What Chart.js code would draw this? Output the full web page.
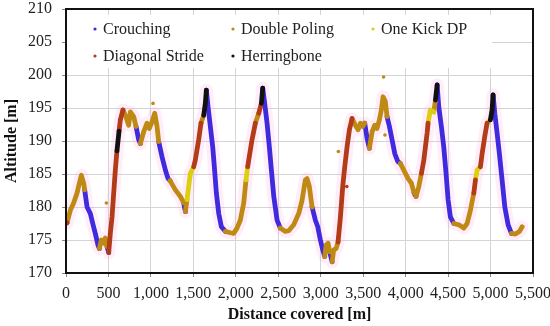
<!DOCTYPE html>
<html>
<head>
<meta charset="utf-8">
<script src="https://cdn.jsdelivr.net/npm/chart.js@4.4.1/dist/chart.umd.min.js"></script>
<style>
html,body{margin:0;padding:0;background:#fff;}
#wrap{width:550px;height:326px;position:relative;}
</style>
</head>
<body>
<div id="wrap"><canvas id="c" width="550" height="326"></canvas></div>
<script>
// ---- DATA ----
const techNames = ['Crouching', 'Double Poling', 'One Kick DP', 'Diagonal Stride', 'Herringbone'];
const techCodes = ['C', 'DP', 'K', 'DS', 'H'];

// track: distance [m], altitude [m], technique of segment starting at this point
const distance = [0,12,51,90,130,157,181,208,220,248,287,315,345,377,393,416,444,463,483,503,522,542,581,600,625,640,671,699,738,758,797,825,856,876,915,954,982,1013,1045,1072,1092,1131,1170,1202,1225,1288,1347,1386,1406,1425,1465,1504,1523,1563,1590,1622,1641,1653,1673,1700,1728,1747,1771,1799,1830,1877,1936,1975,2014,2053,2093,2120,2140,2152,2191,2230,2270,2301,2317,2340,2368,2395,2419,2447,2486,2524,2583,2623,2682,2741,2780,2819,2839,2866,2898,2937,2965,2996,3024,3047,3063,3086,3106,3134,3153,3181,3204,3232,3259,3283,3310,3338,3369,3408,3440,3467,3495,3518,3546,3573,3605,3636,3663,3691,3714,3734,3761,3781,3809,3840,3872,3907,3938,3978,4029,4068,4099,4123,4155,4186,4214,4253,4264,4291,4332,4351,4371,4390,4421,4449,4476,4500,4527,4567,4626,4685,4724,4763,4803,4822,4842,4881,4901,4932,4959,4998,5018,5030,5050,5077,5104,5136,5168,5207,5246,5293,5340,5372];
const altitude = [177.5,177.6,179.5,180.6,182.1,183.6,184.8,183.6,182.6,180,179,177.5,176,174.2,173.7,175,174.5,175.3,174,173.1,176,178.5,185.6,188.5,191.5,193.2,194.7,193.9,192.4,194.4,193.7,192.2,190.2,189.6,191.4,192.7,191.9,192.9,194.2,192.2,189.9,187.6,185.6,184.3,184.0,182.6,181.6,180.6,179.3,181.1,185.1,186.1,187.1,190.2,192.7,193.9,195.7,197.7,195.2,192.2,189.1,186.1,182.1,179.0,177.0,176.3,176.1,176.0,176.8,178,180.6,184.1,186.1,187.1,190.2,192.7,194.2,195.7,198,195.7,192.7,189.1,185.6,181.6,178,176.8,176.3,176.4,177.3,179.0,181.0,184.1,184.3,183.1,180,178,177,175,173.5,172.5,174.2,174.5,173.2,171.7,173.5,173.7,174.7,178.5,183.1,186.1,189.1,191.7,193.4,192.4,191.7,192.7,192.2,192.7,190.4,188.9,191.4,192.4,191.9,193.2,194.7,196.7,196,193.7,192.2,190.2,188.1,186.9,186.6,185.6,184.3,183.6,182.1,181.6,183.1,185.1,187.1,191.2,192.7,194.7,194.4,196.2,198.5,195.2,192.2,189.1,185.1,181.1,178.5,177.5,177.3,176.8,177.5,179.5,182.1,184.1,185.6,186.1,188.1,190.7,192.7,193.2,194.7,197,194.2,191.2,188.1,184.1,180,177.3,176,175.9,176.3,177];
const technique = ['DS','DP','DP','DP','DP','DP','DP','DP','C','C','C','C','C','C','DP','DP','DP','DP','C','DS','DS','DS','DS','H','DS','DS','DP','DP','DP','DP','DP','C','C','DP','DP','DP','DP','DP','DP','DP','C','C','C','C','DP','DP','DP','C','DP','K','K','DS','DS','DS','DP','H','H','C','C','C','C','C','C','C','C','DP','DP','DP','DP','DP','DP','K','DS','DS','DS','DP','DS','H','C','C','C','C','C','C','C','DP','DP','DP','DP','DP','DP','DP','DP','DP','C','C','C','C','C','DP','DP','DP','C','DP','DP','DP','DS','DS','DS','DS','DS','DS','DP','DP','DP','DP','DP','C','C','DP','DP','DP','DP','DP','DP','DP','DP','C','C','C','C','C','DP','DP','DP','DP','C','DP','DP','DS','DS','DS','K','K','DP','H','C','C','C','C','C','C','C','DP','DP','DP','DP','DP','DS','K','K','DS','DS','DS','K','H','H','C','C','C','C','C','C','C','DP','DP','DP','DP'];

// isolated samples
const strayDistance = [475, 1025, 3208, 3307, 3740, 3756];
const strayAltitude = [180.6, 195.7, 188.4, 183.1, 199.7, 190.9];
const strayTechnique = ['DP', 'DP', 'DP', 'DS', 'DP', 'DP'];

const xTicks = [0,500,1000,1500,2000,2500,3000,3500,4000,4500,5000,5500];
const yTicks = [170,175,180,185,190,195,200,205,210];

// ---- STYLE ----
const techColors = {C:'#3f2ade', DP:'#bf8a14', K:'#dccf10', DS:'#b23c18', H:'#111111'};
const SERIF = "'Liberation Serif', 'Times New Roman', serif";
Chart.defaults.font.family = SERIF;
Chart.defaults.color = '#222';

// ---- BUILD DATASETS ----
const datasets = [];
techCodes.forEach((code, k) => {
  const pts = [];
  let last = -2;
  for (let i = 0; i < distance.length - 1; i++) {
    if (technique[i] !== code) continue;
    if (i !== last) {
      if (pts.length) pts.push({x: distance[i], y: null});
      pts.push({x: distance[i], y: altitude[i]});
    }
    pts.push({x: distance[i+1], y: altitude[i+1]});
    last = i + 1;
  }
  datasets.push({
    label: techNames[k], data: pts, showLine: true, spanGaps: false,
    borderColor: techColors[code], backgroundColor: techColors[code],
    borderWidth: 4.8, pointRadius: 0, borderCapStyle: 'round', borderJoinStyle: 'round',
    order: 5 - k
  });
});
datasets.push({
  label: 'halo', data: distance.map((d, i) => ({x: d, y: altitude[i]})), showLine: true,
  borderColor: 'rgba(255,170,230,0.2)', borderWidth: 13, pointRadius: 0,
  borderCapStyle: 'round', borderJoinStyle: 'round', order: 20
});
datasets.push({
  label: 'stray', data: strayDistance.map((d, i) => ({x: d, y: strayAltitude[i]})), showLine: false,
  pointRadius: 1.8, pointBorderWidth: 0,
  pointBackgroundColor: strayTechnique.map(t => techColors[t]), order: 0
});

// ---- PLUGINS ----
const legendBox = {
  id: 'legendBox',
  beforeDatasetsDraw(chart) {
    const ctx = chart.ctx, a = chart.chartArea;
    ctx.save();
    ctx.fillStyle = '#fff';
    ctx.fillRect(a.left + 1, 15, 492 - a.left - 1, 53);
    const pos = [[95, 29], [233, 29], [373, 29], [95, 56], [233, 56]];
    ctx.font = '16px ' + SERIF;
    ctx.textBaseline = 'middle';
    ctx.textAlign = 'left';
    techCodes.forEach((code, k) => {
      const [x, y] = pos[k];
      ctx.fillStyle = techColors[code];
      ctx.beginPath(); ctx.arc(x, y, 1.6, 0, Math.PI * 2); ctx.fill();
      ctx.fillStyle = '#222';
      ctx.fillText(techNames[k], x + 8, y + 1);
    });
    ctx.restore();
  },
  afterDatasetsDraw(chart) {
    const ctx = chart.ctx, a = chart.chartArea;
    ctx.save();
    ctx.strokeStyle = '#111';
    ctx.lineWidth = 2;
    ctx.strokeRect(a.left, a.top, a.right - a.left, a.bottom - a.top);
    ctx.restore();
  }
};

new Chart(document.getElementById('c'), {
  type: 'scatter',
  data: { datasets },
  options: {
    responsive: false, animation: false, events: [],
    layout: { padding: { left: 0, right: 0, top: 0, bottom: 0 } },
    plugins: { legend: { display: false }, tooltip: { enabled: false } },
    scales: {
      x: {
        type: 'linear', min: 0, max: 5500,
        afterBuildTicks: s => { s.ticks = xTicks.map(v => ({value: v})); },
        afterFit: s => { s.height = 53; s.paddingRight = 17; },
        grid: { color: '#d4d4d4', lineWidth: 1, tickLength: 4, tickColor: '#888', drawTicks: true },
        border: { display: false },
        ticks: { font: { size: 16 }, color: '#222', padding: 7, maxRotation: 0,
                 callback: v => v.toLocaleString('en-US') },
        title: { display: true, text: 'Distance covered [m]', font: { size: 16, weight: 'bold' },
                 color: '#111', padding: { top: 0, bottom: 2 } }
      },
      y: {
        type: 'linear', min: 170, max: 210,
        afterBuildTicks: s => { s.ticks = yTicks.map(v => ({value: v})); },
        afterFit: s => { s.width = 66; s.paddingTop = 9; s.paddingBottom = 0; },
        grid: { color: '#d4d4d4', lineWidth: 1, tickLength: 4, tickColor: '#888' },
        border: { display: false },
        ticks: { font: { size: 16 }, color: '#222', padding: 10 },
        title: { display: true, text: 'Altitude [m]', font: { size: 16, weight: 'bold' },
                 color: '#111', padding: { top: 2, bottom: 0 } }
      }
    }
  },
  plugins: [legendBox]
});
</script>
</body>
</html>
